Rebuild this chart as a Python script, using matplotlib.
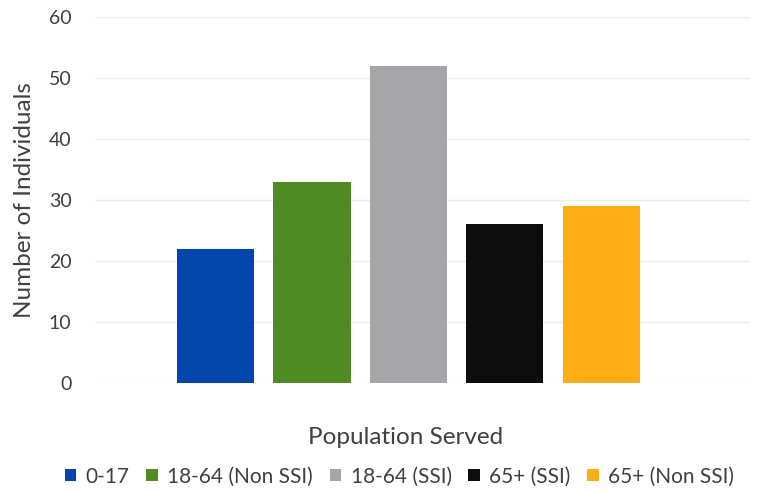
import matplotlib.pyplot as plt

# Data
series = ["0-17", "18-64 (Non SSI)", "18-64 (SSI)", "65+ (SSI)", "65+ (Non SSI)"]
counts = [22, 33, 52, 26, 29]
colors = ["#0347ad", "#4f8a23", "#a6a6a8", "#0d0d0d", "#ffad14"]
yticks = [0, 10, 20, 30, 40, 50, 60]

plt.rcParams["font.family"] = ["Lato", "DejaVu Sans"]

fig = plt.figure(figsize=(7.61, 4.93), dpi=100)
ax = fig.add_axes([0.125, 0.223, 0.86, 0.7425])

for i, (name, val, col) in enumerate(zip(series, counts, colors)):
    ax.bar(i, val, width=0.8, color=col, label=name, zorder=3)

ax.set_ylim(0, 60)
ax.set_xlim(-1.25, 5.54)
ax.set_yticks(yticks)
ax.set_xticks([])
ax.yaxis.grid(True, color="#ececec", linewidth=1, zorder=0)
for s in ax.spines.values():
    s.set_visible(False)
ax.tick_params(axis="y", length=0, pad=17, labelsize=14, labelcolor="#404040")

ax.set_ylabel("Number of Individuals", fontsize=17.5, color="#404040", labelpad=10)
ax.set_xlabel("Population Served", fontsize=17.5, color="#404040", va="center")
ax.xaxis.set_label_coords(0.475, -0.15)

fig.legend(loc="lower center", bbox_to_anchor=(0.525, -0.025), ncol=5, frameon=False,
           fontsize=15, handlelength=0.55, handleheight=0.55, handletextpad=0.45,
           columnspacing=0.8, labelcolor="#404040")

plt.savefig("out.png", dpi=100)
plt.close()
